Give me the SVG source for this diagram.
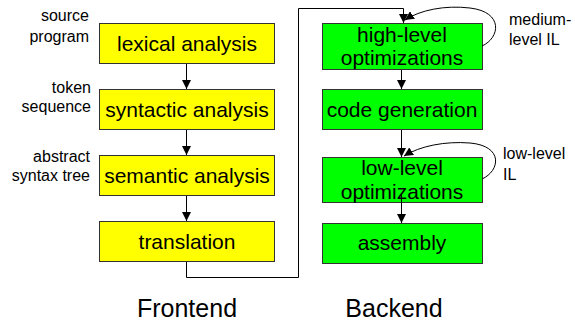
<svg xmlns="http://www.w3.org/2000/svg" width="575" height="326" viewBox="0 0 575 326">
<style>
.fe{fill:#ffff00;stroke:#333;stroke-width:1}
.be{fill:#00ff00;stroke:#333;stroke-width:1}
text{font-family:"Liberation Sans",Arial,sans-serif;fill:#000}
.t{font-size:21px;text-anchor:middle}
.l{font-size:16px;text-anchor:end}
.r{font-size:16px}
.h{font-size:25px;text-anchor:middle}
.c{fill:none;stroke:#000;stroke-width:1}
</style>
<defs>
<marker id="ah" viewBox="0 0 10 10" refX="10" refY="5" markerWidth="9" markerHeight="9" markerUnits="userSpaceOnUse" orient="auto">
<path d="M0,0 L10,5 L0,10 z" fill="#000"/>
</marker>
</defs>
<rect width="575" height="326" fill="#fff"/>
<g id="n-lexical"><rect class="fe" x="99.5" y="23.5" width="175" height="40"/><text class="t" x="187" y="51">lexical analysis</text></g>
<g id="n-syntactic"><rect class="fe" x="99.5" y="89.5" width="175" height="40"/><text class="t" x="187" y="117">syntactic analysis</text></g>
<g id="n-semantic"><rect class="fe" x="99.5" y="155.5" width="175" height="40"/><text class="t" x="187" y="183">semantic analysis</text></g>
<g id="n-translation"><rect class="fe" x="99.5" y="221.5" width="175" height="40"/><text class="t" x="187" y="249">translation</text></g>
<g id="n-highlevel"><rect class="be" x="322.5" y="23.5" width="160" height="46"/><text class="t" x="402" y="42">high-level</text><text class="t" x="402" y="65">optimizations</text></g>
<g id="n-codegen"><rect class="be" x="322.5" y="89.5" width="160" height="40"/><text class="t" x="402" y="117">code generation</text></g>
<g id="n-lowlevel"><rect class="be" x="322.5" y="157.5" width="160" height="45"/><text class="t" x="402" y="175">low-level</text><text class="t" x="402" y="199">optimizations</text></g>
<g id="n-assembly"><rect class="be" x="322.5" y="223.5" width="160" height="40"/><text class="t" x="402" y="250">assembly</text></g>
<g id="labels">
<text class="l" x="89" y="21">source</text><text class="l" x="89" y="42">program</text>
<text class="l" x="91" y="93">token</text><text class="l" x="91" y="112">sequence</text>
<text class="l" x="90" y="162">abstract</text><text class="l" x="90" y="181">syntax tree</text>
<text class="r" x="509" y="25">medium-</text><text class="r" x="509" y="45">level IL</text>
<text class="r" x="503" y="159">low-level</text><text class="r" x="503" y="180">IL</text>
<text class="h" x="187" y="317">Frontend</text>
<text class="h" x="394" y="317">Backend</text>
</g>
<g id="connectors">
<line class="c" x1="186.5" y1="64" x2="186.5" y2="89" marker-end="url(#ah)"/>
<line class="c" x1="186.5" y1="130" x2="186.5" y2="155" marker-end="url(#ah)"/>
<line class="c" x1="186.5" y1="196" x2="186.5" y2="221" marker-end="url(#ah)"/>
<path class="c" d="M186.5,262 V277.5 H298.5 V8.5 H403.5 V23" marker-end="url(#ah)"/>
<line class="c" x1="401.5" y1="70" x2="401.5" y2="89" marker-end="url(#ah)"/>
<line class="c" x1="401.5" y1="130" x2="401.5" y2="157" marker-end="url(#ah)"/>
<line class="c" x1="401.5" y1="195" x2="401.5" y2="223" marker-end="url(#ah)"/>
<path class="c" d="M482,46 C500,38 504,12 470,8 C445,5 420,10 405,20" marker-end="url(#ah)"/>
<path class="c" d="M482,179 C500,171 504,146 470,143 C445,141 420,146 404,156" marker-end="url(#ah)"/>
</g>
</svg>
